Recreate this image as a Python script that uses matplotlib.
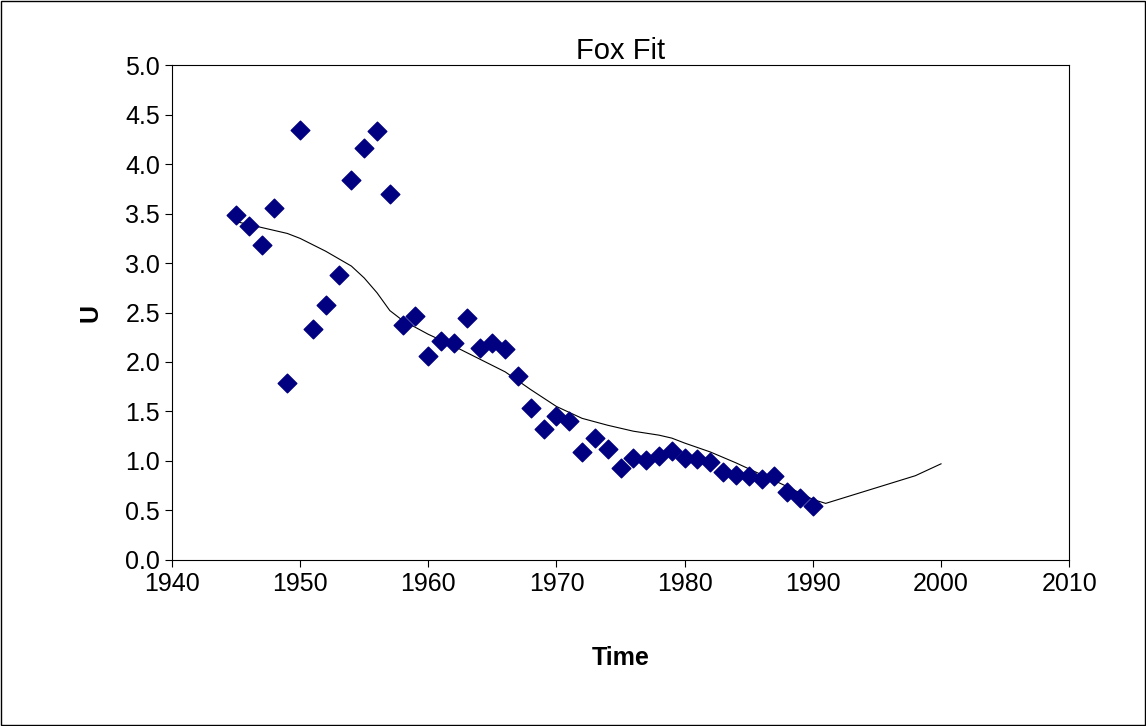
import matplotlib
matplotlib.use("Agg")
import matplotlib.pyplot as plt

plt.rcParams['font.family'] = ['Liberation Sans', 'DejaVu Sans']

# наблюдения
years = list(range(1945, 1991))
u_obs = [3.49, 3.38, 3.18, 3.56, 1.79, 4.35, 2.33, 2.58, 2.88, 3.84,
         4.16, 4.34, 3.70, 2.37, 2.46, 2.06, 2.21, 2.19, 2.44, 2.14,
         2.19, 2.13, 1.86, 1.53, 1.32, 1.45, 1.40, 1.09, 1.23, 1.12,
         0.93, 1.03, 1.01, 1.05, 1.10, 1.03, 1.02, 0.99, 0.89, 0.86,
         0.85, 0.82, 0.85, 0.69, 0.62, 0.54]

# подгонка модели Фокса
fit_years = [1945, 1947, 1949, 1950, 1952, 1954, 1955, 1956, 1957, 1958, 1960,
             1962, 1964, 1966, 1968, 1970, 1972, 1974, 1976, 1978, 1979,
             1980, 1982, 1984, 1986, 1988, 1990, 1991, 1992, 1995, 1998, 2000]
u_fit = [3.42, 3.36, 3.30, 3.25, 3.12, 2.97, 2.85, 2.70, 2.52, 2.42, 2.28,
         2.16, 2.03, 1.90, 1.72, 1.55, 1.43, 1.36, 1.30, 1.26, 1.23,
         1.18, 1.09, 0.98, 0.86, 0.74, 0.61, 0.57, 0.61, 0.73, 0.85, 0.97]

fig = plt.figure(figsize=(11.46, 7.26), dpi=100)
fig.patches.append(plt.Rectangle((0.001, 0.001), 0.998, 0.997, transform=fig.transFigure,
                                 fill=False, edgecolor="black", linewidth=1))
ax = fig.add_axes([0.150, 0.229, 0.783, 0.681])

ax.plot(fit_years, u_fit, color="black", linewidth=0.8)
ax.scatter(years, u_obs, marker="D", s=90, color="#000080", zorder=3)

ax.set_xlim(1940, 2010)
ax.set_ylim(0, 5)
ax.set_xticks(range(1940, 2011, 10))
ax.set_yticks([i * 0.5 for i in range(11)])
ax.set_yticklabels([f"{i * 0.5:.1f}" for i in range(11)])
ax.tick_params(labelsize=18, direction="out", length=5)
ax.set_title("Fox Fit", fontsize=21, pad=4)
ax.set_xlabel("Time", fontsize=18, fontweight="bold", labelpad=36)
ax.set_ylabel("U", fontsize=18, fontweight="bold", labelpad=16)

fig.savefig("out.png", dpi=100)
